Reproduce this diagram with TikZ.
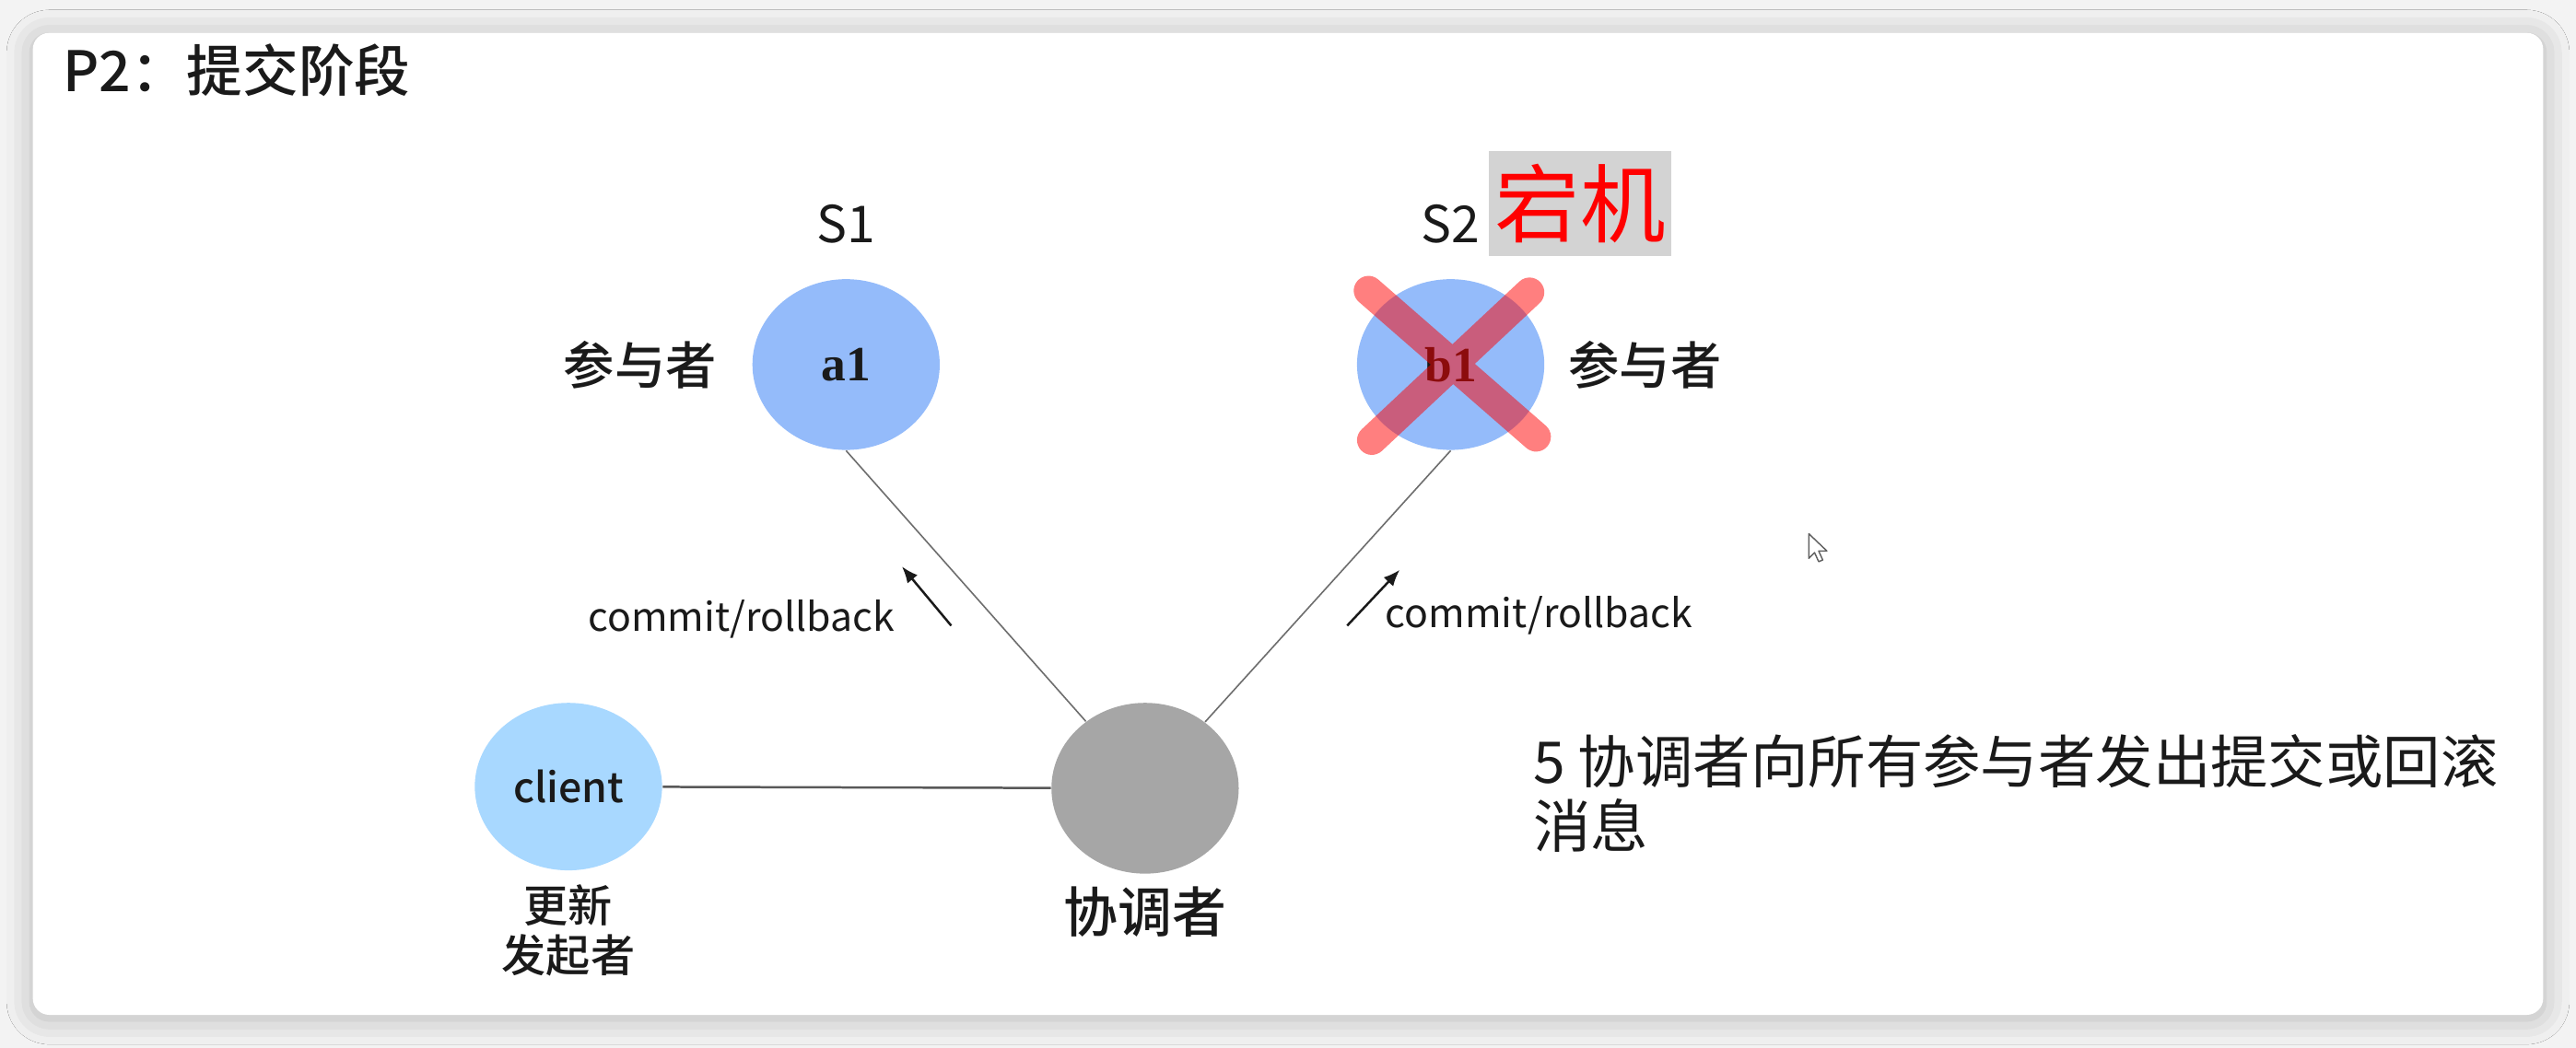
\documentclass[tikz,border=0pt]{standalone}
\usepackage{fontspec}
\setmainfont{Noto Sans CJK SC}
\newfontfamily\cjkmedium{Noto Sans CJK SC Medium}
\newfontfamily\serifbold{Liberation Serif}
\usetikzlibrary{arrows.meta,positioning,shapes.geometric,shadows.blur}
\definecolor{PageGray}{HTML}{F3F3F3}
\definecolor{PeerBlue}{HTML}{94BBFA}
\definecolor{ClientBlue}{HTML}{A8D8FF}
\definecolor{CoordGray}{HTML}{A6A6A6}
\definecolor{LinkGray}{HTML}{6E6E6E}
\definecolor{DownGray}{HTML}{D3D3D3}
\definecolor{InkDark}{HTML}{1A1A1A}

\begin{document}
\begin{tikzpicture}[x=0.5pt,y=-0.5pt, every node/.style={inner sep=0pt,text=InkDark}, peer/.style={ellipse,fill=PeerBlue,minimum width=57pt,minimum height=52pt,font=\serifbold\bfseries\fontsize{15}{17}\selectfont}, client/.style={ellipse,fill=ClientBlue,minimum width=57pt,minimum height=51pt,font=\cjkmedium\fontsize{12.5}{14}\selectfont}, coordnode/.style={ellipse,fill=CoordGray,minimum width=57pt,minimum height=52pt}, server/.style={font=\fontsize{15.5}{17}\selectfont}, role/.style={font=\cjkmedium\fontsize{15.5}{17}\selectfont,align=center}, msg/.style={font=\fontsize{12}{14}\selectfont}, link/.style={draw=LinkGray,line width=0.45pt}, msgarrow/.style={-{Latex[length=5pt,width=4pt]},line width=0.7pt,draw=InkDark}]
\useasboundingbox (0,0) rectangle (1568,638);
\fill[PageGray] (0,0) rectangle (1568,638);
\fill[white,rounded corners=5pt,blur shadow={shadow xshift=0pt,shadow yshift=-1pt,shadow blur radius=8pt,shadow opacity=25}] (20,20) rectangle (1548,618);
\node[anchor=west,font=\cjkmedium\fontsize{17}{19}\selectfont] (title) at (38,43) {P2：提交阶段};
\node[peer] (a1) at (515,222) {a1};
\node[peer] (b1) at (883,222) {b1};
\node[coordnode] (coord) at (697,480) {};
\node[client] (client) at (346,479) {client};
\node[server,above=10.5pt of a1] (s1) {S1};
\node[server,above=10.5pt of b1] (s2) {S2};
\node[anchor=west,fill=DownGray,text=red,minimum width=55.5pt,minimum height=32pt,font=\fontsize{26}{28}\selectfont] (down) at (906,124) {宕机};
\node[role,left=10.5pt of a1] (rolea) {参与者};
\node[role,right=7pt of b1] (roleb) {参与者};
\node[role,font=\cjkmedium\fontsize{16.5}{18}\selectfont,below=3.5pt of coord] (rolec) {协调者};
\node[role,font=\cjkmedium\fontsize{13.5}{15}\selectfont,below=4pt of client] (roled) {更新\\发起者};
\draw[link,line width=0.7pt,draw=LinkGray!80!black] (client) -- (coord);
\draw[link] (coord) -- (a1.south);
\draw[link] (coord) -- (b1.south);
% commit/rollback messages
\coordinate (tail1) at (579,381);
\coordinate (head1) at (549,345);
\coordinate (tail2) at (820,381);
\coordinate (head2) at (852,347);
\draw[msgarrow] (tail1) -- (head1);
\draw[msgarrow] (tail2) -- (head2);
\node[msg,anchor=east] (msg1) at (545,377) {commit/rollback};
\node[msg,anchor=west] (msg2) at (843,375) {commit/rollback};
% b1 is down
\draw[red,opacity=0.5,line width=9pt,line cap=round] (833,177) -- (935,266) (931,178) -- (835,268);
\node[anchor=north west,align=left,font=\fontsize{17.5}{19.5}\selectfont] (note) at (933,447) {5 协调者向所有参与者发出提交或回滚\\消息};
\draw[fill=white,draw=InkDark!70,line width=0.4pt,line join=round] (1101,325) -- (1101,340) -- (1104.5,336.5) -- (1107,342) -- (1109.5,341) -- (1107,335.5) -- (1112,335.5) -- cycle;
\end{tikzpicture}
\end{document}
